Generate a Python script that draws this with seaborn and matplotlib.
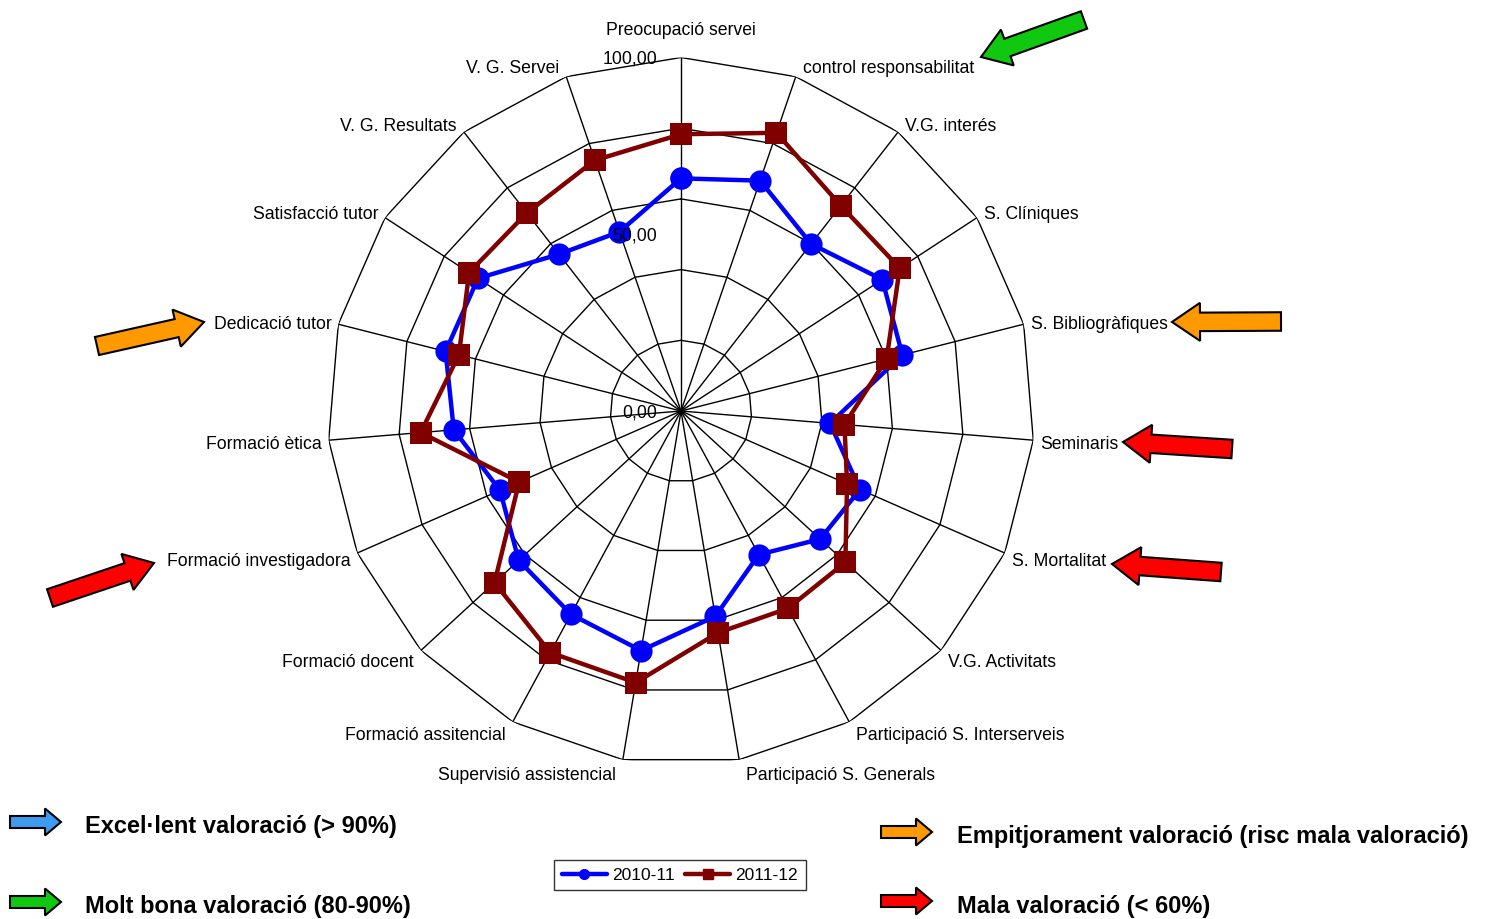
import numpy as np
import pandas as pd
import matplotlib
matplotlib.use("Agg")
import matplotlib.pyplot as plt
import matplotlib.patches as mpatches
from matplotlib.lines import Line2D
import seaborn as sns

# categories clockwise from the top
categories = [
    "Preocupació servei", "control responsabilitat", "V.G. interés",
    "S. Clíniques", "S. Bibliogràfiques", "Seminaris", "S. Mortalitat",
    "V.G. Activitats", "Participació S. Interserveis",
    "Participació S. Generals", "Supervisió assistencial",
    "Formació assitencial", "Formació docent", "Formació investigadora",
    "Formació ètica", "Dedicació tutor", "Satisfacció tutor",
    "V. G. Resultats", "V. G. Servei",
]
vals_2010_11 = [65.8, 68.9, 59.9, 68.0, 64.6, 42.3, 55.3, 53.5, 46.2, 58.9,
                68.7, 65.4, 62.4, 55.9, 64.5, 68.7, 68.6, 56.2, 53.6]
vals_2011_12 = [78.3, 83.2, 73.6, 73.9, 60.0, 46.4, 51.3, 63.2, 63.5, 63.6,
                77.9, 77.7, 71.7, 50.0, 73.9, 64.8, 71.6, 71.0, 75.0]
series_names = ["2010-11", "2011-12"]
ring_values = [20, 40, 60, 80, 100]
radial_labels = {0: "0,00", 50: "50,00", 100: "100,00"}

legend_notes = [
    ("Excel·lent valoració (> 90%)", "#3d9bf0"),
    ("Molt bona valoració (80-90%)", "#11c811"),
    ("Empitjorament valoració (risc mala valoració)", "#ff9900"),
    ("Mala valoració (< 60%)", "#ff0000"),
]

W, H, DPI = 1491, 919, 100
cx, cy, R = 681, 411, 353.5

sns.set_style("white")
plt.rcParams["font.family"] = ["Liberation Sans", "DejaVu Sans"]
plt.rcParams["text.color"] = "black"

n = len(categories)
theta = np.arange(n) * 2 * np.pi / n

rows = []
for name, vals in zip(series_names, [vals_2010_11, vals_2011_12]):
    for t, v in zip(list(theta) + [2 * np.pi], list(vals) + [vals[0]]):
        rows.append({"theta": t, "value": v, "curs": name})
df = pd.DataFrame(rows)

fig = plt.figure(figsize=(W / DPI, H / DPI), dpi=DPI)
ax = fig.add_axes([(cx - R) / W, 1 - (cy + R) / H, 2 * R / W, 2 * R / H],
                  projection="polar")
ax.set_theta_zero_location("N")
ax.set_theta_direction(-1)
ax.grid(False)
ax.spines["polar"].set_visible(False)
ax.set_xticks([])
ax.set_yticks([])

# polygon rings and spokes
closed = np.append(theta, 2 * np.pi)
for r in ring_values:
    ax.plot(closed, [r] * len(closed), color="black", lw=1.0, zorder=1)
for t in theta:
    ax.plot([t, t], [0, 100], color="black", lw=1.0, zorder=1)

sns.lineplot(data=df, x="theta", y="value", hue="curs", style="curs",
             palette=["#0000ff", "#800000"], markers=["o", "s"], dashes=False,
             sort=False, errorbar=None, lw=3.2, markersize=16,
             markeredgewidth=0, legend=False, ax=ax, zorder=3)
ax.set_ylim(0, 100)
ax.set_xlabel("")
ax.set_ylabel("")

px = 0.72  # points per pixel
for t, lab in zip(theta, categories):
    s, c = np.sin(t), np.cos(t)
    if abs(s) < 0.05:
        ha, off = "center", (0, 27 * px)
    else:
        ha = "left" if s > 0 else "right"
        off = (7 * np.sign(s) * px, (12 * c - 3.5) * px)
    ax.annotate(lab, xy=(t, 100), xytext=off, textcoords="offset points",
                ha=ha, va="center", fontsize=12.7, annotation_clip=False)

for r, lab in radial_labels.items():
    ax.annotate(lab, xy=(0, r), xytext=(-24 * px, -2 * px),
                textcoords="offset points", ha="right", va="center",
                fontsize=12.7, annotation_clip=False, zorder=4)

# overlay in pixel units for the arrows and notes
ov = fig.add_axes([0, 0, 1, 1], zorder=-1)
ov.set_xlim(0, W)
ov.set_ylim(H, 0)
ov.axis("off")


def block_arrow(tail, tip, color, w, hw, hl):
    a = mpatches.FancyArrow(tail[0], tail[1], tip[0] - tail[0], tip[1] - tail[1],
                            width=w, head_width=hw, head_length=hl,
                            length_includes_head=True, facecolor=color,
                            edgecolor="black", lw=1.5)
    ov.add_patch(a)


big_arrows = [
    ((1084, 20), (981, 57), "#11c811"),
    ((1281, 321.5), (1172, 322), "#ff9900"),
    ((1232, 449), (1123, 442), "#ff0000"),
    ((1221, 572), (1112, 564), "#ff0000"),
    ((97, 346), (204, 322), "#ff9900"),
    ((50, 598), (154, 563), "#ff0000"),
]
for tail, tip, col in big_arrows:
    block_arrow(tail, tip, col, 18.5, 38, 28)

note_pos = [(10, 85, 822), (10, 85, 902), (881, 957, 832), (881, 957, 901)]
for (ax0, tx, ty), (txt, col) in zip(note_pos, legend_notes):
    block_arrow((ax0, ty), (ax0 + 51, ty), col, 12, 27, 16)
    ov.text(tx, ty + 5, txt, fontsize=17, fontweight="bold", ha="left",
            va="center")

handles = [
    Line2D([], [], color="#0000ff", lw=3.2, marker="o", markersize=7),
    Line2D([], [], color="#800000", lw=3.2, marker="s", markersize=7),
]
leg = fig.legend(handles, series_names, loc="center",
                 bbox_to_anchor=(680 / W, 1 - 875 / H), ncol=2,
                 frameon=True, fancybox=False, edgecolor="black",
                 fontsize=12.5, handlelength=2.6, handletextpad=0.3,
                 columnspacing=0.6, borderpad=0.45)
leg.get_frame().set_linewidth(1.0)

fig.savefig("out.png", dpi=DPI)
